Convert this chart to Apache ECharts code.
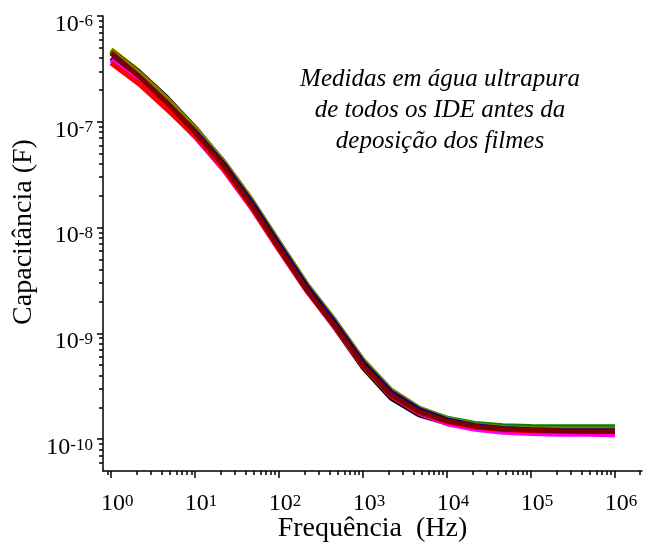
<!DOCTYPE html>
<html>
<head>
<meta charset="utf-8">
<script src="https://cdn.jsdelivr.net/npm/echarts@6/dist/echarts.min.js"></script>
<style>
  html, body { margin: 0; padding: 0; background: #ffffff; }
  #chart { width: 645px; height: 552px; }
</style>
</head>
<body>
<div id="chart"></div>
<script>
// Measurement frequencies (Hz), three points per decade
const frequencies = [1, 2.154, 4.642, 10, 21.54, 46.42, 100, 215.4, 464.2, 1000,
  2154, 4642, 10000, 21540, 46420, 100000, 215400, 464200, 1000000];

// Capacitance (F) of each IDE measured in ultrapure water
const capYellow  = [4.85e-7, 3.00e-7, 1.66e-7, 8.50e-8, 4.10e-8, 1.74e-8, 6.70e-9, 2.65e-9, 1.20e-9, 5.10e-10, 2.68e-10, 1.85e-10, 1.50e-10, 1.34e-10, 1.26e-10, 1.23e-10, 1.21e-10, 1.20e-10, 1.20e-10];
const capBlack   = [4.75e-7, 2.95e-7, 1.68e-7, 8.80e-8, 4.20e-8, 1.75e-8, 6.60e-9, 2.55e-9, 1.13e-9, 4.75e-10, 2.45e-10, 1.70e-10, 1.42e-10, 1.30e-10, 1.24e-10, 1.22e-10, 1.20e-10, 1.195e-10, 1.195e-10];
const capGreen   = [4.60e-7, 2.85e-7, 1.62e-7, 8.60e-8, 4.25e-8, 1.84e-8, 7.20e-9, 2.85e-9, 1.29e-9, 5.50e-10, 2.88e-10, 1.96e-10, 1.58e-10, 1.41e-10, 1.34e-10, 1.32e-10, 1.31e-10, 1.31e-10, 1.31e-10];
const capOlive   = [4.70e-7, 2.90e-7, 1.65e-7, 8.70e-8, 4.30e-8, 1.86e-8, 7.30e-9, 2.90e-9, 1.32e-9, 5.60e-10, 2.92e-10, 1.97e-10, 1.56e-10, 1.37e-10, 1.29e-10, 1.26e-10, 1.25e-10, 1.245e-10, 1.245e-10];
const capBlue    = [4.00e-7, 2.55e-7, 1.50e-7, 8.10e-8, 4.05e-8, 1.76e-8, 6.90e-9, 2.75e-9, 1.25e-9, 5.30e-10, 2.78e-10, 1.90e-10, 1.52e-10, 1.34e-10, 1.26e-10, 1.23e-10, 1.21e-10, 1.20e-10, 1.20e-10];
const capMagenta = [3.80e-7, 2.36e-7, 1.34e-7, 7.20e-8, 3.55e-8, 1.55e-8, 6.15e-9, 2.50e-9, 1.14e-9, 4.90e-10, 2.57e-10, 1.76e-10, 1.40e-10, 1.24e-10, 1.16e-10, 1.13e-10, 1.115e-10, 1.11e-10, 1.10e-10];
const capRed     = [3.60e-7, 2.28e-7, 1.31e-7, 7.40e-8, 3.65e-8, 1.58e-8, 6.20e-9, 2.52e-9, 1.15e-9, 4.90e-10, 2.58e-10, 1.79e-10, 1.46e-10, 1.30e-10, 1.23e-10, 1.20e-10, 1.18e-10, 1.175e-10, 1.175e-10];
const capMaroon  = [4.47e-7, 2.69e-7, 1.51e-7, 7.94e-8, 3.89e-8, 1.66e-8, 6.46e-9, 2.57e-9, 1.17e-9, 5.01e-10, 2.63e-10, 1.82e-10, 1.48e-10, 1.32e-10, 1.245e-10, 1.22e-10, 1.20e-10, 1.19e-10, 1.19e-10];

// Decade tick positions
const xMajorTicks = [1, 10, 100, 1000, 10000, 100000, 1000000];
const yMajorTicks = [1e-10, 1e-9, 1e-8, 1e-7, 1e-6];

const curves = [
  { data: capYellow,  color: '#ffff00' },
  { data: capBlack,   color: '#000000' },
  { data: capGreen,   color: '#008000' },
  { data: capOlive,   color: '#808000' },
  { data: capBlue,    color: '#000080' },
  { data: capMagenta, color: '#ff00ff' },
  { data: capRed,     color: '#ff0000' },
  { data: capMaroon,  color: '#800000' }
];

const X_MIN = 0.8, X_MAX = 2.1e6;
const Y_MIN = 5e-11, Y_MAX = 1e-6;

// 2..9 minor ticks inside each decade of the axis range
function minorTicks(lo, hi) {
  const out = [];
  for (let e = Math.floor(Math.log10(lo)); e <= Math.ceil(Math.log10(hi)); e++) {
    for (let m = 2; m <= 9; m++) {
      const v = m * Math.pow(10, e);
      if (v >= lo * 1.001 && v <= hi) out.push(v);
    }
  }
  return out;
}

const SERIF = '"Liberation Serif", "Times New Roman", serif';
const power = v => Math.round(Math.log10(v));

const axisLineStyle = { color: '#000', width: 1.5 };

const chart = echarts.init(document.getElementById('chart'), null, { renderer: 'canvas' });

chart.setOption({
  animation: false,
  backgroundColor: '#ffffff',
  grid: { left: 103, top: 16, right: 3, bottom: 81, containLabel: false },
  xAxis: [
    {
      type: 'log', min: X_MIN, max: X_MAX, position: 'bottom',
      axisLine: { lineStyle: axisLineStyle },
      axisTick: { inside: false, length: 7, customValues: xMajorTicks, lineStyle: axisLineStyle },
      axisLabel: {
        customValues: xMajorTicks,
        margin: 21,
        formatter: v => '{b|10}{s|' + power(v) + '}',
        rich: {
          b: { fontFamily: SERIF, fontSize: 24, color: '#000', padding: [0, 0, 0, 12] },
          s: { fontFamily: SERIF, fontSize: 17, color: '#000', padding: [0, 0, 5, 0] }
        }
      },
      splitLine: { show: false }
    },
    {
      type: 'log', min: X_MIN, max: X_MAX, position: 'bottom',
      axisLine: { show: false },
      axisTick: { inside: false, length: 4, customValues: minorTicks(X_MIN, X_MAX), lineStyle: axisLineStyle },
      axisLabel: { show: false },
      splitLine: { show: false }
    }
  ],
  yAxis: [
    {
      type: 'log', min: Y_MIN, max: Y_MAX, position: 'left',
      axisLine: { lineStyle: axisLineStyle },
      axisTick: { inside: false, length: 6, customValues: yMajorTicks, lineStyle: axisLineStyle },
      axisLabel: {
        customValues: yMajorTicks,
        margin: 10,
        padding: [17, 0, 0, 0],
        formatter: v => '{b|10}{s|' + power(v) + '}',
        rich: {
          b: { fontFamily: SERIF, fontSize: 24, color: '#000' },
          s: { fontFamily: SERIF, fontSize: 17, color: '#000', padding: [0, 0, 5, 0] }
        }
      },
      splitLine: { show: false }
    },
    {
      type: 'log', min: Y_MIN, max: Y_MAX, position: 'left',
      axisLine: { show: false },
      axisTick: { inside: false, length: 4, customValues: minorTicks(Y_MIN, Y_MAX), lineStyle: axisLineStyle },
      axisLabel: { show: false },
      splitLine: { show: false }
    }
  ],
  series: curves.map(c => ({
    type: 'line',
    xAxisIndex: 0,
    yAxisIndex: 0,
    showSymbol: false,
    symbol: 'none',
    silent: true,
    lineStyle: { color: c.color, width: 5 },
    data: frequencies.map((f, i) => [f, c.data[i]])
  })),
  graphic: [
    {
      type: 'text', x: 440, y: 64,
      style: {
        text: 'Medidas em água ultrapura\nde todos os IDE antes da\ndeposição dos filmes',
        align: 'center', verticalAlign: 'top', lineHeight: 31,
        font: 'italic 25px ' + SERIF, fill: '#000'
      }
    },
    {
      type: 'text', x: 372.5, y: 528.5,
      style: {
        text: 'Frequência  (Hz)', align: 'center', verticalAlign: 'middle',
        font: '28px ' + SERIF, fill: '#000'
      }
    },
    {
      type: 'text', x: 23.5, y: 232, rotation: Math.PI / 2,
      style: {
        text: 'Capacitância (F)', align: 'center', verticalAlign: 'middle',
        font: '28px ' + SERIF, fill: '#000'
      }
    }
  ]
});
</script>
</body>
</html>
